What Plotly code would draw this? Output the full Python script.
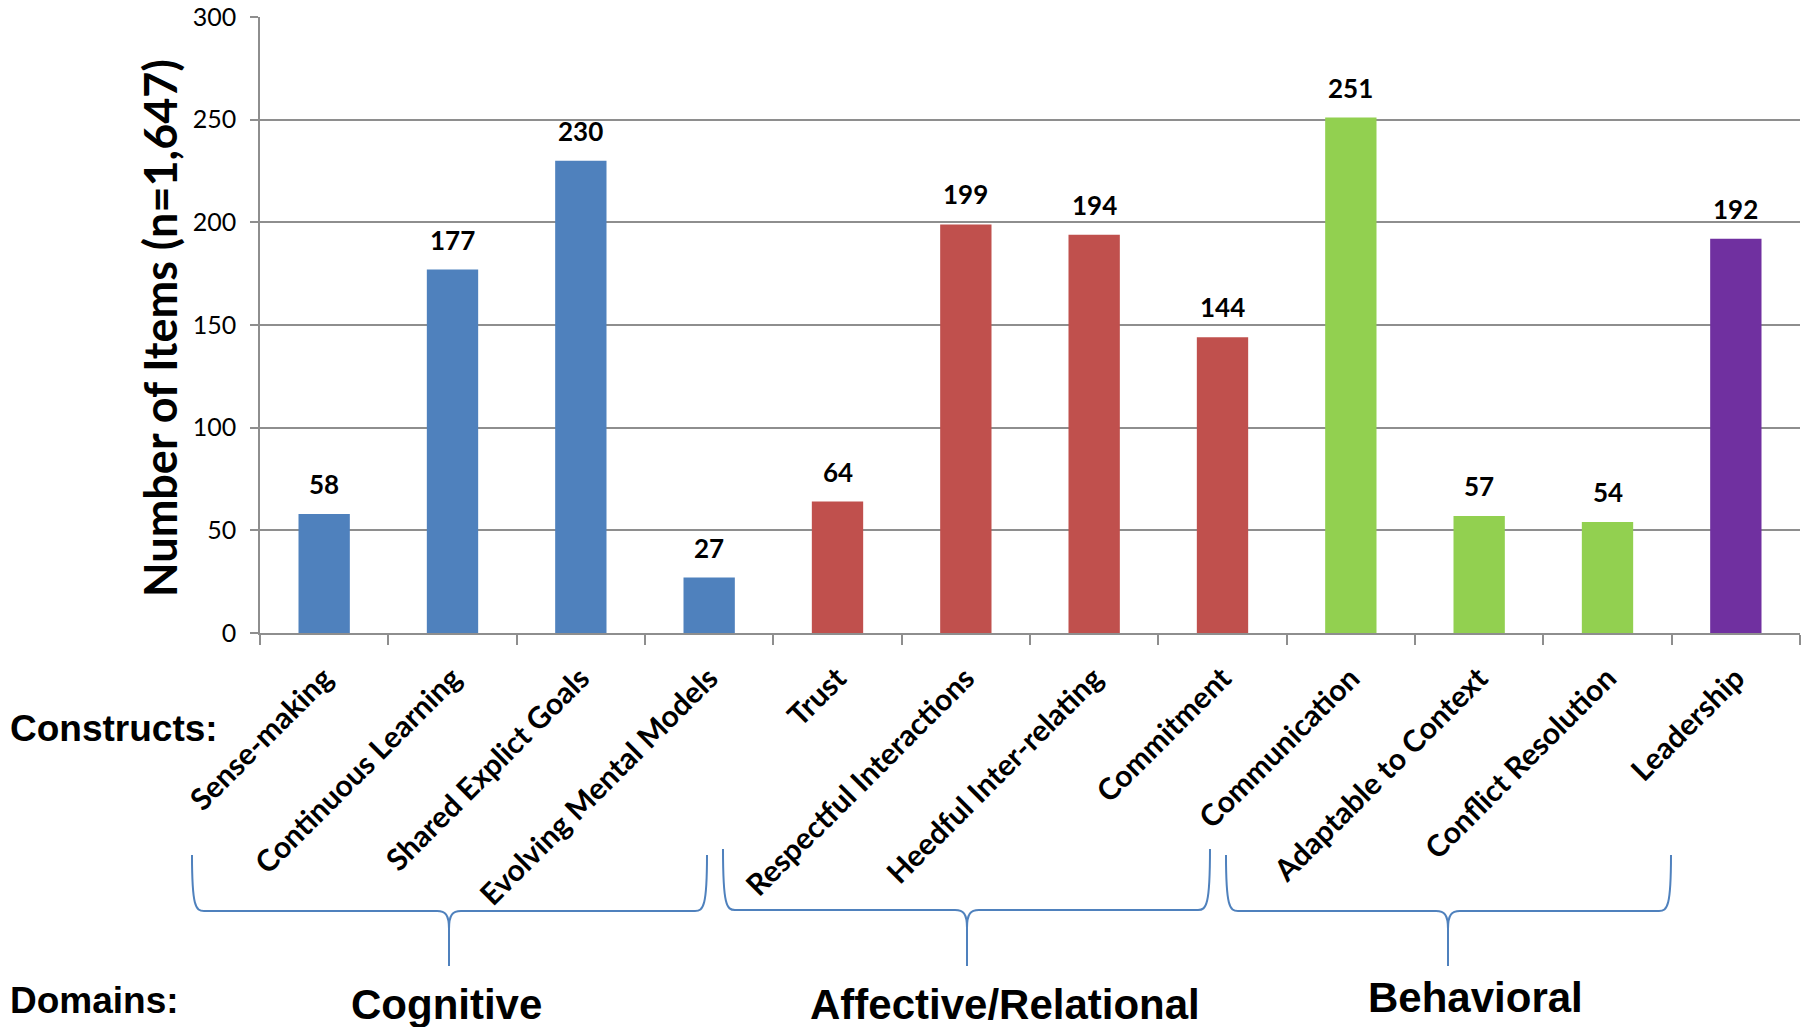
import plotly.graph_objects as go

# ---------------- data ----------------
constructs = ["Sense-making", "Continuous Learning", "Shared Explict Goals",
              "Evolving Mental Models", "Trust", "Respectful Interactions",
              "Heedful Inter-relating", "Commitment", "Communication",
              "Adaptable to Context", "Conflict Resolution", "Leadership"]
items = [58, 177, 230, 27, 64, 199, 194, 144, 251, 57, 54, 192]
bar_colors = ["#4F81BD"] * 4 + ["#C0504D"] * 4 + ["#92D050"] * 3 + ["#7030A0"]
domains = ["Cognitive", "Affective/Relational", "Behavioral"]
y_ticks = [0, 50, 100, 150, 200, 250, 300]

# ---------------- geometry (pixels) ----------------
W, H = 1812, 1027
L, R, T, B = 260, 1800, 17, 633


def px(x):
    return (x - L) / (R - L)


def py(y):
    return (B - y) / (B - T)


fig = go.Figure()
fig.add_trace(go.Bar(
    x=constructs, y=items, marker=dict(color=bar_colors, line=dict(width=0)),
    width=0.4, hoverinfo="x+y", showlegend=False,
))

GRID = "#8E8E8E"
fig.update_layout(
    width=W, height=H,
    margin=dict(l=L, r=W - R, t=T, b=H - B, autoexpand=False),
    plot_bgcolor="white", paper_bgcolor="white",
    font=dict(family="Lato", color="black"),
    xaxis=dict(
        type="category", tickson="boundaries", ticks="outside", ticklen=10,
        tickcolor=GRID, tickwidth=1.6, showline=True, linecolor=GRID, linewidth=1.6,
        tickangle=-45, tickfont=dict(family="Lato", size=30, color="black", weight="bold"),
        showgrid=False, automargin=False, ticklabelstandoff=14,
    ),
    yaxis=dict(
        range=[0, 300], tickvals=y_ticks, ticks="outside", ticklen=8,
        tickcolor=GRID, tickwidth=1.6, showline=True, linecolor=GRID, linewidth=1.6,
        showgrid=True, gridcolor=GRID, gridwidth=1.6, zeroline=False,
        tickfont=dict(family="Lato", size=25, color="black"),
        ticklabelstandoff=9, automargin=False,
    ),
)

annotations = []
# value labels
for c, v in zip(constructs, items):
    annotations.append(dict(
        x=c, y=v, xref="x", yref="y", text=str(v), showarrow=False,
        yanchor="bottom", yshift=12,
        font=dict(family="Lato", size=26, color="black", weight="bold"),
    ))

# y axis title
annotations.append(dict(
    x=px(160), y=py(328), xref="paper", yref="paper", text="Number of Items (n=1,647)",
    textangle=-90, showarrow=False, xanchor="center", yanchor="middle",
    font=dict(family="Lato", size=45, color="black", weight="bold"),
))

SANS = "Liberation Sans, Arial"
annotations.append(dict(
    x=px(8), y=py(728), xref="paper", yref="paper", text="Constructs:",
    showarrow=False, xanchor="left", yanchor="middle",
    font=dict(family=SANS, size=37, color="black", weight="bold"),
))
annotations.append(dict(
    x=px(8), y=py(1000), xref="paper", yref="paper", text="Domains:",
    showarrow=False, xanchor="left", yanchor="middle",
    font=dict(family=SANS, size=37, color="black", weight="bold"),
))

domain_pos = [(446, 1004), (1005, 1004), (1475, 997)]
for name, (dx, dy) in zip(domains, domain_pos):
    annotations.append(dict(
        x=px(dx), y=py(dy), xref="paper", yref="paper", text=name,
        showarrow=False, xanchor="center", yanchor="middle",
        font=dict(family=SANS, size=42, color="black", weight="bold"),
    ))

fig.update_layout(annotations=annotations)


# braces
def brace(x0, x1, xc, ytop, ymid, ytip, r=12, rc=12):
    def P(x, y):
        return f"{px(x):.5f},{py(y):.5f}"
    d = (
        f"M {P(x0, ytop)} "
        f"C {P(x0, ymid - r * 0.4)} {P(x0 + r * 0.3, ymid)} {P(x0 + r, ymid)} "
        f"L {P(xc - rc, ymid)} "
        f"C {P(xc - rc * 0.3, ymid)} {P(xc, ymid + rc * 0.3)} {P(xc, ymid + rc * 1.5)} "
        f"L {P(xc, ytip)} "
        f"M {P(xc, ymid + rc * 1.5)} "
        f"C {P(xc, ymid + rc * 0.3)} {P(xc + rc * 0.3, ymid)} {P(xc + rc, ymid)} "
        f"L {P(x1 - r, ymid)} "
        f"C {P(x1 - r * 0.3, ymid)} {P(x1, ymid - r * 0.4)} {P(x1, ytop)}"
    )
    return dict(type="path", path=d, xref="paper", yref="paper",
                line=dict(color="#4F81BD", width=2), layer="above")


braces = [
    brace(192, 707, 449, 855, 911, 966),
    brace(723, 1210, 967, 849, 910, 966),
    brace(1226, 1671, 1448, 855, 911, 966),
]
fig.update_layout(shapes=braces)

fig.write_html("out.html")
